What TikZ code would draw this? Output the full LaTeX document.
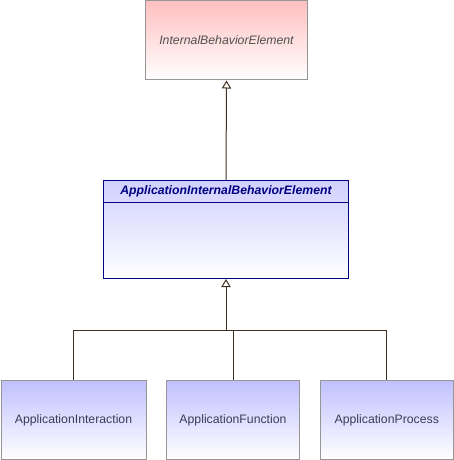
\documentclass[tikz,border=0pt]{standalone}
\usepackage{fontspec}
\setmainfont{Liberation Sans}
\usepackage{tikz}
\usetikzlibrary{arrows.meta}
\definecolor{redtop}{RGB}{255,192,192}
\definecolor{bluetop}{RGB}{192,192,255}
\definecolor{midtop}{RGB}{208,208,255}
\definecolor{boxline}{RGB}{150,150,150}
\definecolor{navyline}{RGB}{0,0,128}
\definecolor{connline}{RGB}{64,48,32}
\definecolor{labelgray}{RGB}{80,80,80}
\definecolor{labelblue}{RGB}{60,60,90}

\tikzset{
  elem/.style={draw=boxline, line width=0.75pt, rectangle, inner sep=0pt, anchor=north west, bottom color=white, font=\fontsize{9.2}{11}\selectfont},
  genline/.style={draw=connline, line width=0.75pt},
  genarrow/.style={genline, -{Triangle[open, length=6pt, width=7pt]}}
}

\begin{document}
\begin{tikzpicture}[x=0.75pt,y=0.75pt,yscale=-1,xscale=1]
\useasboundingbox (0,0) rectangle (453,460);

%Shape: Rectangle [id:ibe]
\node [elem, top color=redtop, text=labelgray, minimum width=121.5pt, minimum height=59.25pt] (ibe) at (145,0.5) {\itshape InternalBehaviorElement};

%Shape: Rectangle [id:aibe]
\node [elem, draw=navyline, top color=midtop, minimum width=183.75pt, minimum height=73.5pt] (aibe) at (103,180) {};
% Text Node
\node [anchor=north, inner sep=0pt, minimum height=16.5pt, text=navyline, font=\fontsize{9.2}{11}\selectfont\bfseries\itshape] (aibetitle) at (aibe.north) {ApplicationInternalBehaviorElement};
%Straight Lines [id:header]
\draw [navyline, line width=0.75pt] (aibetitle.south -| aibe.west) -- (aibetitle.south -| aibe.east);

%Shape: Rectangle [id:interaction]
\node [elem, top color=bluetop, text=labelblue, minimum width=108.75pt, minimum height=59.25pt] (interaction) at (0.5,380) {ApplicationInteraction};
%Shape: Rectangle [id:function]
\node [elem, top color=bluetop, text=labelblue, minimum width=99.75pt, minimum height=59.25pt] (function) at (166,380) {ApplicationFunction};
%Shape: Rectangle [id:process]
\node [elem, top color=bluetop, text=labelblue, minimum width=99.4pt, minimum height=59.25pt] (process) at (320,380) {ApplicationProcess};

%Straight Lines [id:gen1]
\draw [genarrow] (aibe.north) -- (ibe.south);

\coordinate (join) at (aibe.south |- 0,330);
%Straight Lines [id:gen2]
\draw [genline] (interaction.north) |- (join);
\draw [genline] (process.north) |- (join);
\draw [genline] (function.north) -- (function.north |- join);
\draw [genarrow] (join) -- (aibe.south);

\end{tikzpicture}
\end{document}
